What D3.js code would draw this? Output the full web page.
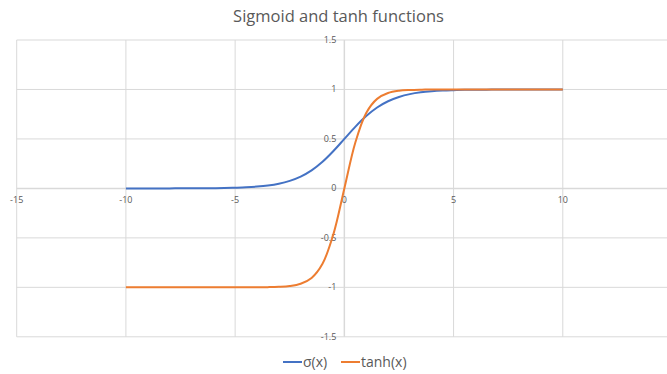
<!DOCTYPE html>
<html>
<head>
<meta charset="utf-8">
<script src="https://cdn.jsdelivr.net/npm/d3@7"></script>
<style>
  html, body { margin: 0; padding: 0; background: #fff; }
  svg { display: block; font-family: 'Open Sans', 'Liberation Sans', sans-serif; }
</style>
</head>
<body>
<div id="chart"></div>
<script>
// data
const xValues = [-10, -9.5, -9, -8.5, -8, -7.5, -7, -6.5, -6, -5.5, -5, -4.5, -4, -3.5, -3, -2.5, -2, -1.5, -1, -0.5,
    0, 0.5, 1, 1.5, 2, 2.5, 3, 3.5, 4, 4.5, 5, 5.5, 6, 6.5, 7, 7.5, 8, 8.5, 9, 9.5, 10];
const sigmoidValues = [0.000, 0.000, 0.000, 0.000, 0.000, 0.001, 0.001, 0.002, 0.002, 0.004, 0.007, 0.011, 0.018, 0.029, 0.047, 0.076, 0.119, 0.182, 0.269, 0.378,
    0.500, 0.622, 0.731, 0.818, 0.881, 0.924, 0.953, 0.971, 0.982, 0.989, 0.993, 0.996, 0.998, 0.998, 0.999, 0.999, 1.000, 1.000, 1.000, 1.000, 1.000];
const tanhValues = [-1.000, -1.000, -1.000, -1.000, -1.000, -1.000, -1.000, -1.000, -1.000, -1.000, -1.000, -1.000, -0.999, -0.998, -0.995, -0.987, -0.964, -0.905, -0.762, -0.462,
    0.000, 0.462, 0.762, 0.905, 0.964, 0.987, 0.995, 0.998, 0.999, 1.000, 1.000, 1.000, 1.000, 1.000, 1.000, 1.000, 1.000, 1.000, 1.000, 1.000, 1.000];
const xTicks = [-15, -10, -5, 0, 5, 10];
const yTicks = [-1.5, -1, -0.5, 0, 0.5, 1, 1.5];
const seriesNames = ['σ(x)', 'tanh(x)'];

// colours
const sigmoidColor = '#4472c4';
const tanhColor = '#ed7d31';
const gridColor = '#d9d9d9';
const textColor = '#595959';

const width = 667;
const height = 374;

const svg = d3.select('#chart')
    .append('svg')
    .attr('width', width)
    .attr('height', height);

const x = d3.scaleLinear()
    .domain([-15, 15])
    .range([16.7, 672]);

const y = d3.scaleLinear()
    .domain([-1.5, 1.5])
    .range([336.8, 40]);

// title
svg.append('text')
    .attr('x', 338.5)
    .attr('y', 22)
    .attr('text-anchor', 'middle')
    .attr('fill', textColor)
    .style('font-size', '16.5px')
    .text('Sigmoid and tanh functions');

// gridlines
svg.append('g')
    .selectAll('line')
    .data(yTicks)
    .enter()
    .append('line')
    .attr('x1', x(-15))
    .attr('x2', width)
    .attr('y1', d => y(d))
    .attr('y2', d => y(d))
    .attr('stroke', gridColor)
    .attr('stroke-width', d => d === 0 ? 1.5 : 1);

svg.append('g')
    .selectAll('line')
    .data(xTicks)
    .enter()
    .append('line')
    .attr('x1', d => x(d))
    .attr('x2', d => x(d))
    .attr('y1', y(1.5))
    .attr('y2', y(-1.5))
    .attr('stroke', gridColor)
    .attr('stroke-width', d => d === 0 ? 1.5 : 1);

// tick labels (axes cross at 0,0)
svg.append('g')
    .selectAll('text')
    .data(xTicks)
    .enter()
    .append('text')
    .attr('x', d => x(d))
    .attr('y', y(0) + 15)
    .attr('text-anchor', 'middle')
    .attr('fill', textColor)
    .style('font-size', '9px')
    .text(d => d);

svg.append('g')
    .selectAll('text')
    .data(yTicks)
    .enter()
    .append('text')
    .attr('x', x(0) - 8)
    .attr('y', d => y(d) + 3)
    .attr('text-anchor', 'end')
    .attr('fill', textColor)
    .style('font-size', '9px')
    .text(d => d);

// series
const lineGen = d3.line()
    .x((d, i) => x(xValues[i]))
    .y(d => y(d))
    .curve(d3.curveCatmullRom);

svg.append('path')
    .attr('d', lineGen(sigmoidValues))
    .attr('fill', 'none')
    .attr('stroke', sigmoidColor)
    .attr('stroke-width', 2);

svg.append('path')
    .attr('d', lineGen(tanhValues))
    .attr('fill', 'none')
    .attr('stroke', tanhColor)
    .attr('stroke-width', 2);

// legend
const legend = svg.append('g');
const legendItems = [
    { name: seriesNames[0], color: sigmoidColor, x: 283 },
    { name: seriesNames[1], color: tanhColor, x: 341 }
];
legendItems.forEach(item => {
    legend.append('line')
        .attr('x1', item.x)
        .attr('x2', item.x + 19)
        .attr('y1', 362)
        .attr('y2', 362)
        .attr('stroke', item.color)
        .attr('stroke-width', 2);
    legend.append('text')
        .attr('x', item.x + 20)
        .attr('y', 367)
        .attr('fill', textColor)
        .style('font-size', '14px')
        .text(item.name);
});
</script>
</body>
</html>
